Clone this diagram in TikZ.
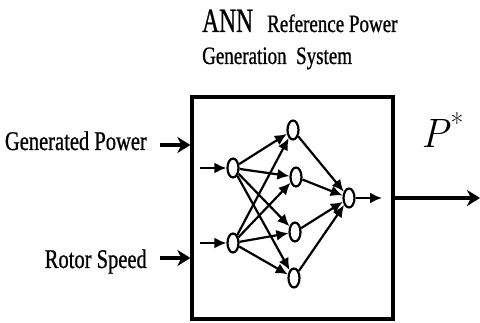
\documentclass[tikz,border=0pt]{standalone}
\usepackage{fontspec}
\newfontfamily\cond[FakeStretch=0.76,FakeBold=0.8]{Liberation Serif}
\newfontfamily\lmital{Latin Modern Roman}
\usetikzlibrary{arrows.meta,shapes.geometric}
\begin{document}
\begin{tikzpicture}[x=1pt,y=-1pt,
  neuron/.style={draw,ellipse,line width=2.2pt,minimum width=11pt,minimum height=19pt,inner sep=0pt,fill=white},
  link/.style={line width=2.2pt,-{Latex[length=12pt,width=11pt]}},
  ext/.style={line width=3.2pt,-{Stealth[length=13pt,width=16pt,inset=4pt]}},
  lbl/.style={inner sep=0pt,font=\cond\fontsize{27}{27}\selectfont}]
\useasboundingbox (0,0) rectangle (480,323);
\node[draw,line width=3.2pt,minimum width=201pt,minimum height=222pt,inner sep=0pt] (box) at (292.5,208) {};
% title
\node[inner sep=0pt,anchor=base west,font=\cond\fontsize{34}{34}\selectfont] (ann) at (202,32) {\scalebox{0.91}[1]{ANN}};
\node[inner sep=0pt,anchor=base west,font=\cond\fontsize{25}{25}\selectfont] (ref) at (267,32) {Reference Power};
\node[inner sep=0pt,anchor=base west,font=\cond\fontsize{25}{25}\selectfont] (gen) at (202,64) {Generation\ \ System};
% input labels
\node[lbl,anchor=base east] (gp) at (147,150) {Generated Power};
\node[lbl,anchor=base east] (rs) at (147,268) {Rotor Speed};
\coordinate (gpa) at (160,145);
\coordinate (rsa) at (160,258);
\draw[ext] (gpa) -- (gpa -| box.west);
\draw[ext] (rsa) -- (rsa -| box.west);
% output
\coordinate (outa) at (480,198);
\draw[ext] (box.east |- outa) -- (outa);
\node[inner sep=0pt,anchor=base west,font=\lmital\fontsize{41}{41}\selectfont] (pstar) at (421,148) {\itshape P\/\raisebox{14pt}{\upshape\fontsize{28}{28}\selectfont *}};
% neurons
\node[neuron] (i1) at (233,168) {};
\node[neuron] (i2) at (233,243) {};
\node[neuron] (h1) at (293,130) {};
\node[neuron] (h2) at (296,177) {};
\node[neuron] (h3) at (295,232) {};
\node[neuron] (h4) at (294,278) {};
\node[neuron] (o) at (349,198) {};
\coordinate (in1) at (200,168);
\coordinate (in2) at (200,243);
\coordinate (out) at (382,198);
\draw[link] (in1) -- (i1);
\draw[link] (in2) -- (i2);
\foreach \i in {i1,i2}{\foreach \h in {h1,h2,h3,h4}{\draw[link] (\i) -- (\h);}}
\foreach \h in {h1,h2,h3,h4}{\draw[link] (\h) -- (o);}
\draw[link] (o) -- (out);
\end{tikzpicture}
\end{document}
